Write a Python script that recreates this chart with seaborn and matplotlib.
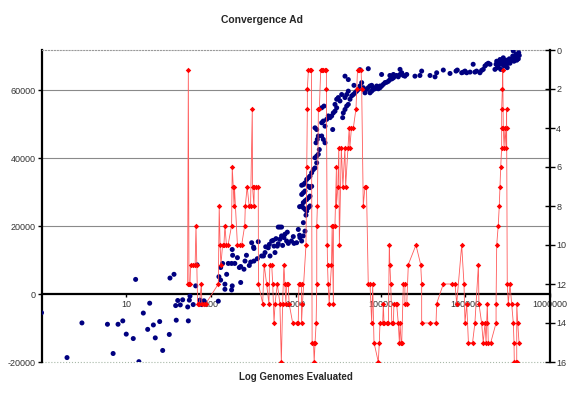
import numpy as np
import pandas as pd
import seaborn as sns
import matplotlib.pyplot as plt
from matplotlib.ticker import FuncFormatter, NullLocator

sns.set_style('white')
plt.rcParams['font.family'] = ['Liberation Sans', 'DejaVu Sans']

# ---- best fitness (left axis) ----
fit_x = [1, 2.0, 3.0, 6.0, 7.0, 8.0, 9.1, 10, 12.1, 12.9, 14.1, 15.9, 17.9, 18.9, 20.9, 22, 24.8, 26.9,
         32.2, 32.8, 36.6, 38.3, 38.9, 40.5, 43.4, 46.3, 53.1, 54, 55.5, 56.5, 61.7, 66, 68.4, 74, 77.6,
         82.6, 85, 122, 124, 130, 130, 137, 146, 146, 153, 160, 175, 175, 178, 178, 180, 191, 205, 216,
         224, 224, 245, 252, 262, 283, 294, 302, 318, 321, 321, 352, 361, 396, 416, 434, 442, 474, 488,
         497, 520, 543, 554, 569, 585, 606, 622, 622, 650, 650, 680, 680, 700, 725, 746, 780, 795, 817,
         890, 935, 955, 1024, 1072, 1110, 1110, 1120, 1175, 1228, 1230, 1285, 1320,
         1175, 1228, 1285, 1346, 1407, 1473, 1228, 1285, 1346, 1407, 1473, 1175, 1228, 1285,
         1175, 1228, 1285, 1346, 1407, 1473, 1407, 1473, 1542, 1542, 1611, 1687, 1766,
         1687, 1766, 1845, 1896, 1734, 1795, 1845, 1687, 1766, 2023, 2114, 2214,
         2023, 2114, 2214, 2317, 2421, 2023, 2154, 2535, 2654, 2728, 2775, 2905, 3041, 2905,
         3041, 3177, 3326, 3482, 3579, 3640, 3811, 3811, 3811, 3990, 3990, 4169, 4169, 4169,
         4365, 4570, 4775, 4864, 5000, 5234, 5469, 5726, 5726, 5995, 6265, 6559, 6867, 7176,
         7176, 7513, 7866, 8220, 9011, 9863,
         7520, 7870, 8230, 8610, 9020, 9420, 9860, 10300, 10800, 11300, 11800, 12400, 12900,
         13600, 14200, 14800, 15500, 16200, 17000, 17800, 18600, 19400, 20400, 10300, 12900,
         14200, 17000, 25500, 29200, 30600, 38400, 44000, 46000, 55100, 66100, 77800, 80600,
         90800, 94900, 99300, 104000, 114000, 124000, 130000, 136000, 149000, 156000, 163000,
         171000, 179000, 187000, 196000, 224000, 231000, 235000, 239000, 245000, 252000,
         257000, 262000, 269000, 277000, 281000, 287000, 294000, 303000, 308000, 313000,
         322000, 331000, 337000, 353000, 363000, 369000, 376000, 386000, 397000, 405000,
         411000, 423000, 427000, 434000]
fit_y = [-5500, -18700, -8500, -8900, -17500, -8900, -7900, -11800, -13100, 4300, -19900, -5600, -10400,
         -2700, -9100, -12900, -8100, -16600, -11900, 4700, 5800, -3400, -7700, -1900, -3200, -1700,
         -3800, -7900, -1800, -600, -3100, 2400, 8600, -1800, -3100, -2000, -2500, -2100, 5100, 4100,
         7800, 9000, 2900, 1400, 5800, 9000, 9000, 1200, 13100, 2400, 11400, 9000, 10700, 7800, 3400,
         8100, 7300, 9700, 11400, 8400, 9400, 15100, 13800, 13400, 9700, 10400, 15400, 11200, 11200,
         12200, 13900, 13600, 14600, 11200, 15600, 15800, 14100, 12200, 16300, 14100, 19700, 14800,
         19700, 16100, 19700, 17100, 14300, 16600, 17600, 15600, 18200, 14900, 15600, 16900, 14900,
         15100, 19000, 25700, 17300, 16600, 15600, 17100, 21000, 18500, 23200,
         25900, 25400, 24900, 24400, 25400, 25900, 26900, 27400, 27800, 28300, 28800, 29300, 29800,
         30300, 32000, 32200, 32700, 33700, 34200, 34700, 31700, 31300, 31700, 35700, 36600, 37100,
         38600, 40100, 40600, 41100, 42500, 44500, 45500, 46500, 48900, 48400, 46500, 45500, 44500,
         50400, 50900, 49400, 51400, 52400, 54800, 55300, 51900, 52400, 48400, 53300, 53800, 54800,
         55800, 57300, 57800, 56800, 58700, 51900, 53300, 54300, 57800, 64100, 55300, 58700, 55800,
         59700, 63100, 57300, 58300, 58700, 61400, 59200, 59700, 60200, 61200, 66000, 62200, 60700,
         59200, 60200, 60700, 66300, 61200, 61400, 60700, 61200, 61200,
         59200, 59700, 60200, 60400, 60700, 60400, 60700, 61200, 61700, 62200, 62300, 62600, 63100,
         63300, 63600, 64100, 64300, 63900, 64600, 65100, 64300, 64100, 64600, 64600, 64300, 64600,
         66100, 64100, 64300, 65600, 64300, 63900, 65100, 65900, 64900, 65600, 65900, 65100, 65300,
         65600, 65100, 65300, 67600, 65300, 65600, 65100, 65800, 66100, 67100, 67600, 67900, 67600,
         66100, 67600, 68500, 66600, 67100, 68000, 69000, 66100, 67600, 68500, 69500, 67100, 68000,
         68800, 67600, 66600, 68200, 69200, 67900, 68800, 70000, 71500, 68500, 69500, 70500, 68800,
         69800, 69200, 71000, 70200]

# ---- second measure (right axis, inverted) ----
cnt_x = [53, 54, 55, 56.5, 57.5, 62, 65, 66.5, 68, 69.5, 73, 77, 78, 82, 87, 122, 125, 128, 131, 137,
         142, 146, 152, 159, 175, 178, 183, 187, 189, 205, 220, 230, 250, 254, 267, 282, 293, 307, 309,
         321, 324, 340, 361, 363, 407, 424, 453, 482, 495, 520, 535, 554, 570, 606, 650, 676, 700, 725,
         745, 765, 780, 815, 835, 920, 1025, 1070, 1090, 1120, 1170, 1170, 1200, 1320, 1350, 1370,
         1370, 1410, 1480, 1530, 1560, 1620, 1650, 1690, 1740, 1770, 1770, 1800, 1850, 1900, 1970,
         2020, 2110, 2200, 2300, 2300, 2350, 2370, 2410, 2480, 2640, 2690, 2780, 2780, 2900, 3020,
         3020, 3140, 3220, 3270, 3450, 3600, 3800, 3880, 4140, 4270, 4350, 4540, 4780, 5140, 5240,
         5360, 5600, 5900, 6000, 6260, 6560, 6830, 7170, 7520, 7870, 8090, 8380, 9420, 9680, 9860,
         10600, 10800, 11000, 11800, 12400, 12700, 12900, 13200, 13600, 14200, 14400, 15200, 15500,
         16200, 16700, 17000, 17500, 17800, 18600, 19400, 19400, 20400, 21300, 26200, 29800, 30600,
         30600, 38400, 45200, 46000, 55100, 69200, 75700, 79300, 90800, 96600, 99300, 104000, 109000,
         122000, 130000, 143000, 145000, 156000, 163000, 171000, 176000, 179000, 182000, 187000,
         200000, 231000, 231000, 235000, 245000, 252000, 257000, 262000, 269000, 269000, 269000,
         274000, 277000, 281000, 287000, 294000, 303000, 308000, 308000, 313000, 322000, 337000,
         353000, 369000, 376000, 379000, 397000, 405000, 405000, 416000, 431000]
cnt_y = [12, 1, 12, 12, 11, 11, 11, 9, 11, 13, 13, 12, 13, 13, 13, 12, 8, 10, 11, 10,
         10, 9, 10, 10, 9, 6, 7, 8, 7, 10, 10, 10, 9, 8, 7, 8, 8, 3, 7,
         8, 7, 7, 7, 12, 13, 11, 12, 13, 11, 11, 12, 14, 13, 12, 13, 16, 13, 11,
         12, 13, 12, 12, 13, 14, 14, 14, 12, 12, 12, 14, 13, 10, 6, 3,
         2, 1, 1, 1, 15, 15, 16, 15, 14, 12, 9, 8, 3, 3, 1,
         1, 1, 1, 1, 2, 10, 11, 12, 13, 11, 9, 13, 9, 9, 6,
         8, 7, 5, 10, 5, 7, 5, 7, 5, 4, 5, 4, 4, 3, 2,
         1, 1, 1, 2, 8, 7, 7, 12, 12, 14, 12, 15, 16, 15, 14,
         14, 13, 14, 14, 14, 10, 11, 12, 14, 14, 13, 13, 13,
         14, 15, 14, 15, 15, 12, 12, 13, 13, 11, 10, 11, 12,
         14, 14, 14, 13, 12, 12, 12, 13, 10, 12, 14, 13, 15,
         15, 14, 11, 13, 14, 15, 14, 15, 14, 13, 15,
         15, 14, 13, 10, 9, 8, 7, 6, 5, 4, 3,
         2, 1, 4, 5, 4, 5, 3, 4, 12, 13, 12,
         13, 14, 15, 16, 16, 16, 13, 14, 15]

fit = pd.DataFrame({'genomes': fit_x, 'fitness': fit_y})
cnt = pd.DataFrame({'genomes': cnt_x, 'value': cnt_y})

fig = plt.figure(figsize=(5.76, 3.94), dpi=100)
ax = fig.add_axes([41.5 / 576, 1 - 362 / 394, 508.5 / 576, 312 / 394])
ax.set_xscale('log')

# grid lines and frame lines
for g in [20000, 40000, 60000]:
    ax.axhline(g, color='#8a8a8a', lw=0.8, zorder=0)
ax.axhline(-20000, color='#a8b8a8', lw=0.8, ls=':', zorder=0, clip_on=False)

sns.scatterplot(data=fit, x='genomes', y='fitness', ax=ax, color='#000080', s=13,
                edgecolor='none', zorder=3, legend=False)

ax.set_xlim(1, 1e6)
ax.set_ylim(-20000, 71800)
ax.set_yticks([-20000, 0, 20000, 40000, 60000])
ax.yaxis.set_major_formatter(FuncFormatter(lambda v, p: f'{v:.0f}'))
ax.set_xticks([10, 100, 1000, 10000, 100000, 1000000])
ax.set_xticklabels(['10', '100', '1000', '10000', '100000', '1000000'])
ax.xaxis.set_minor_locator(NullLocator())
ax.set_xlabel('')
ax.set_ylabel('')

ax.spines['bottom'].set_position(('data', 0))
ax.spines['bottom'].set_linewidth(1.6)
ax.spines['bottom'].set_color('black')
ax.spines['left'].set_linewidth(1.6)
ax.spines['left'].set_color('black')
ax.spines['top'].set_linestyle(':')
ax.spines['top'].set_color('#9a9a9a')
ax.spines['top'].set_linewidth(0.8)
ax.spines['right'].set_visible(False)
ax.tick_params(axis='y', direction='out', length=3, width=1, labelsize=6.5, pad=1,
               colors='black', labelcolor='#333333', left=True)
ax.tick_params(axis='x', direction='out', length=2, width=1, labelsize=6.5, pad=2,
               colors='black', labelcolor='#333333', bottom=True)

ax2 = ax.twinx()
sns.lineplot(data=cnt, x='genomes', y='value', ax=ax2, sort=False, estimator=None,
             color='#ff5a5a', lw=0.6, marker='D', markersize=2.8, markeredgewidth=0,
             markerfacecolor='#ff0000', legend=False)
ax2.set_ylim(16, 0)
ax2.set_yticks(range(0, 17, 2))
ax2.set_ylabel('')
ax2.set_xlabel('')
for s in ['top', 'bottom', 'left']:
    ax2.spines[s].set_visible(False)
ax2.spines['right'].set_linewidth(1.6)
ax2.spines['right'].set_color('black')
ax2.tick_params(axis='y', direction='inout', length=7, width=1, labelsize=6.5, pad=1,
                colors='black', labelcolor='#333333', right=True)

fig.text(262 / 576, 1 - 20 / 394, 'Convergence Ad', ha='center', va='center',
         fontsize=7.5, fontweight='bold')
fig.text(296 / 576, 1 - 377 / 394, 'Log Genomes Evaluated', ha='center', va='center',
         fontsize=7, fontweight='bold')

fig.savefig('out.png', dpi=100)
